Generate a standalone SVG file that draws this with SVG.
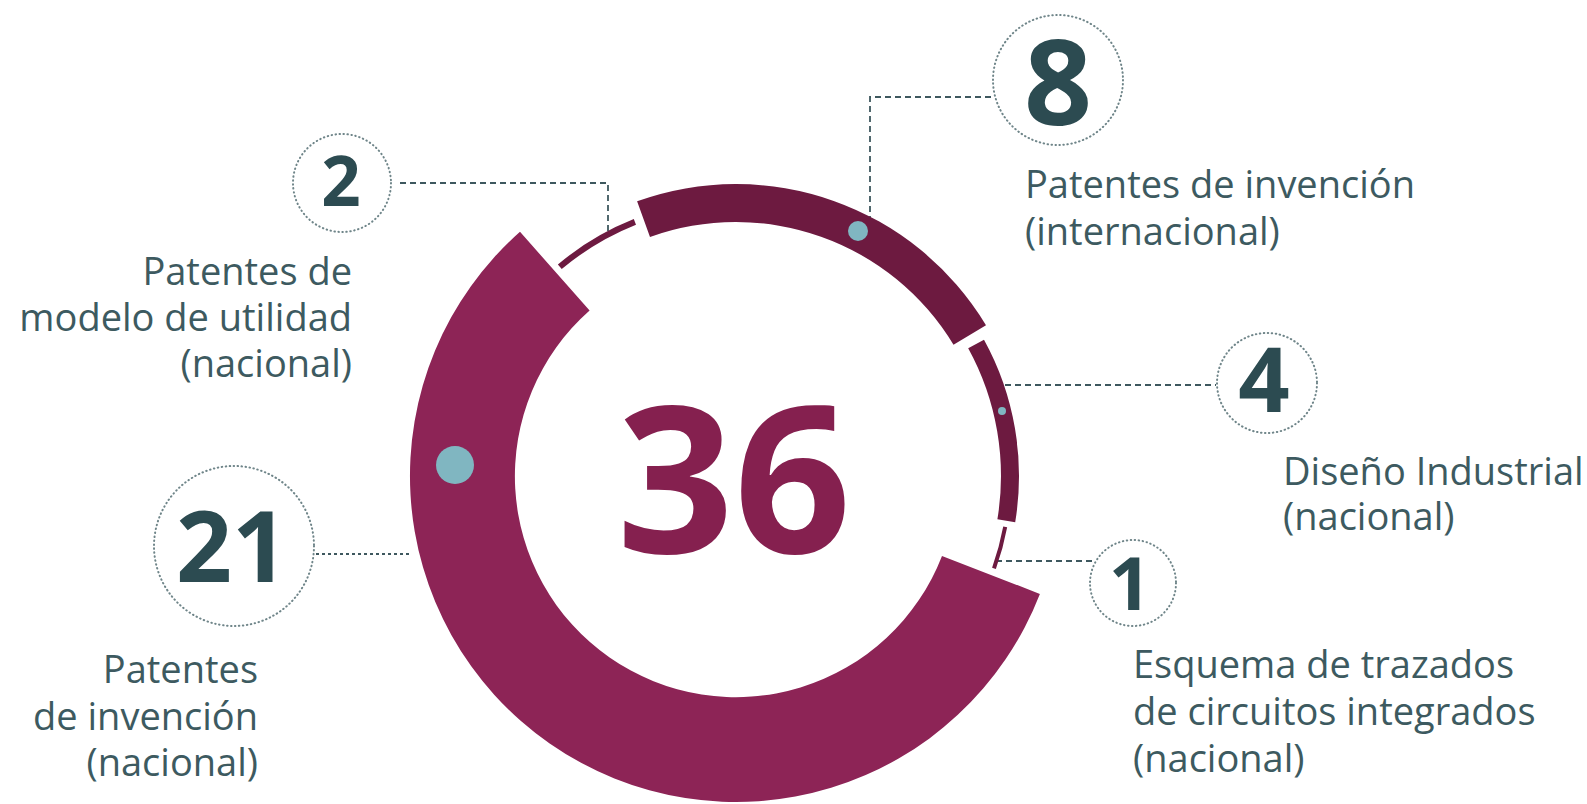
<svg xmlns="http://www.w3.org/2000/svg" width="1587" height="804" viewBox="0 0 1587 804">
<style>
.num{font-family:"Open Sans","Noto Sans","Liberation Sans",sans-serif;font-weight:700;fill:#2c4b51;text-anchor:middle}
.lbl{font-family:"Open Sans","Noto Sans","Liberation Sans",sans-serif;font-size:38px;fill:#3d5a60}
.ring{fill:none;stroke:#6f8589;stroke-width:2;stroke-dasharray:0.5 3.5;stroke-linecap:round}
.lead{fill:none;stroke:#3e585e;stroke-width:1.8;stroke-dasharray:6 4}
.dark{fill:#6d1a40}
.thin{fill:none;stroke:#6d1a40}
.dot{fill:#80b6c1}
</style>
<rect width="1587" height="804" fill="#ffffff"/>
<g id="connectors">
<path class="lead" d="M400 183 H608 V235"/>
<path class="lead" d="M870 222 V97 H993"/>
<path class="lead" d="M1005 385 H1216"/>
<path class="lead" d="M996 561 H1094"/>
<path class="lead" d="M316 554 H409" style="stroke-dasharray:3 3"/>
</g>
<g id="donut">
<path id="seg21" d="M1039.9 593.9 A326 326 0 1 1 520.0 231.8 L589.6 310.5 A221 221 0 1 0 942.0 555.9 Z" fill="#8d2456"/>
<path id="seg8" class="dark" d="M637.1 201.3 A292 292 0 0 1 986.0 325.2 L953.5 344.8 A254 254 0 0 0 650.0 237.0 Z"/>
<path id="seg4" class="dark" d="M984.0 339.7 A283 283 0 0 1 1015.2 522.2 L997.4 519.3 A265 265 0 0 0 968.2 348.3 Z"/>
<path id="seg2" class="thin" stroke-width="6" d="M559.8 266.8 A273.5 273.5 0 0 1 634.9 221.9"/>
<path id="seg1" class="thin" stroke-width="4" d="M1005.2 526.9 A274 274 0 0 1 994.0 568.4"/>
<circle class="dot" cx="455" cy="465" r="19"/>
<circle class="dot" cx="858" cy="231" r="10"/>
<circle class="dot" cx="1002" cy="411" r="4"/>
<text x="734" y="553" font-family="Open Sans, Noto Sans, Liberation Sans, sans-serif" font-weight="700" font-size="205" fill="#85204f" text-anchor="middle">36</text>
</g>
<g id="node-2">
<circle class="ring" cx="342" cy="183" r="49"/>
<text class="num" x="341" y="206" font-size="69">2</text>
<text class="lbl" text-anchor="end"><tspan x="352" y="285">Patentes de</tspan><tspan x="352" y="331">modelo de utilidad</tspan><tspan x="352" y="377">(nacional)</tspan></text>
</g>
<g id="node-8">
<circle class="ring" cx="1058" cy="80" r="65"/>
<text class="num" x="1058" y="125" font-size="119">8</text>
<text class="lbl"><tspan x="1025" y="198">Patentes de invención</tspan><tspan x="1025" y="245">(internacional)</tspan></text>
</g>
<g id="node-4">
<circle class="ring" cx="1267" cy="383" r="50"/>
<text class="num" x="1264" y="412" font-size="90">4</text>
<text class="lbl"><tspan x="1283" y="485">Diseño Industrial</tspan><tspan x="1283" y="530">(nacional)</tspan></text>
</g>
<g id="node-1">
<circle class="ring" cx="1133" cy="583" r="43"/>
<text class="num" x="1130" y="610" font-size="74">1</text>
<text class="lbl"><tspan x="1133" y="678">Esquema de trazados</tspan><tspan x="1133" y="725">de circuitos integrados</tspan><tspan x="1133" y="772">(nacional)</tspan></text>
</g>
<g id="node-21">
<circle class="ring" cx="234" cy="546" r="80"/>
<text class="num" x="232" y="582" font-size="98">21</text>
<text class="lbl" text-anchor="end"><tspan x="258" y="683">Patentes</tspan><tspan x="258" y="730">de invención</tspan><tspan x="258" y="776">(nacional)</tspan></text>
</g>
</svg>
